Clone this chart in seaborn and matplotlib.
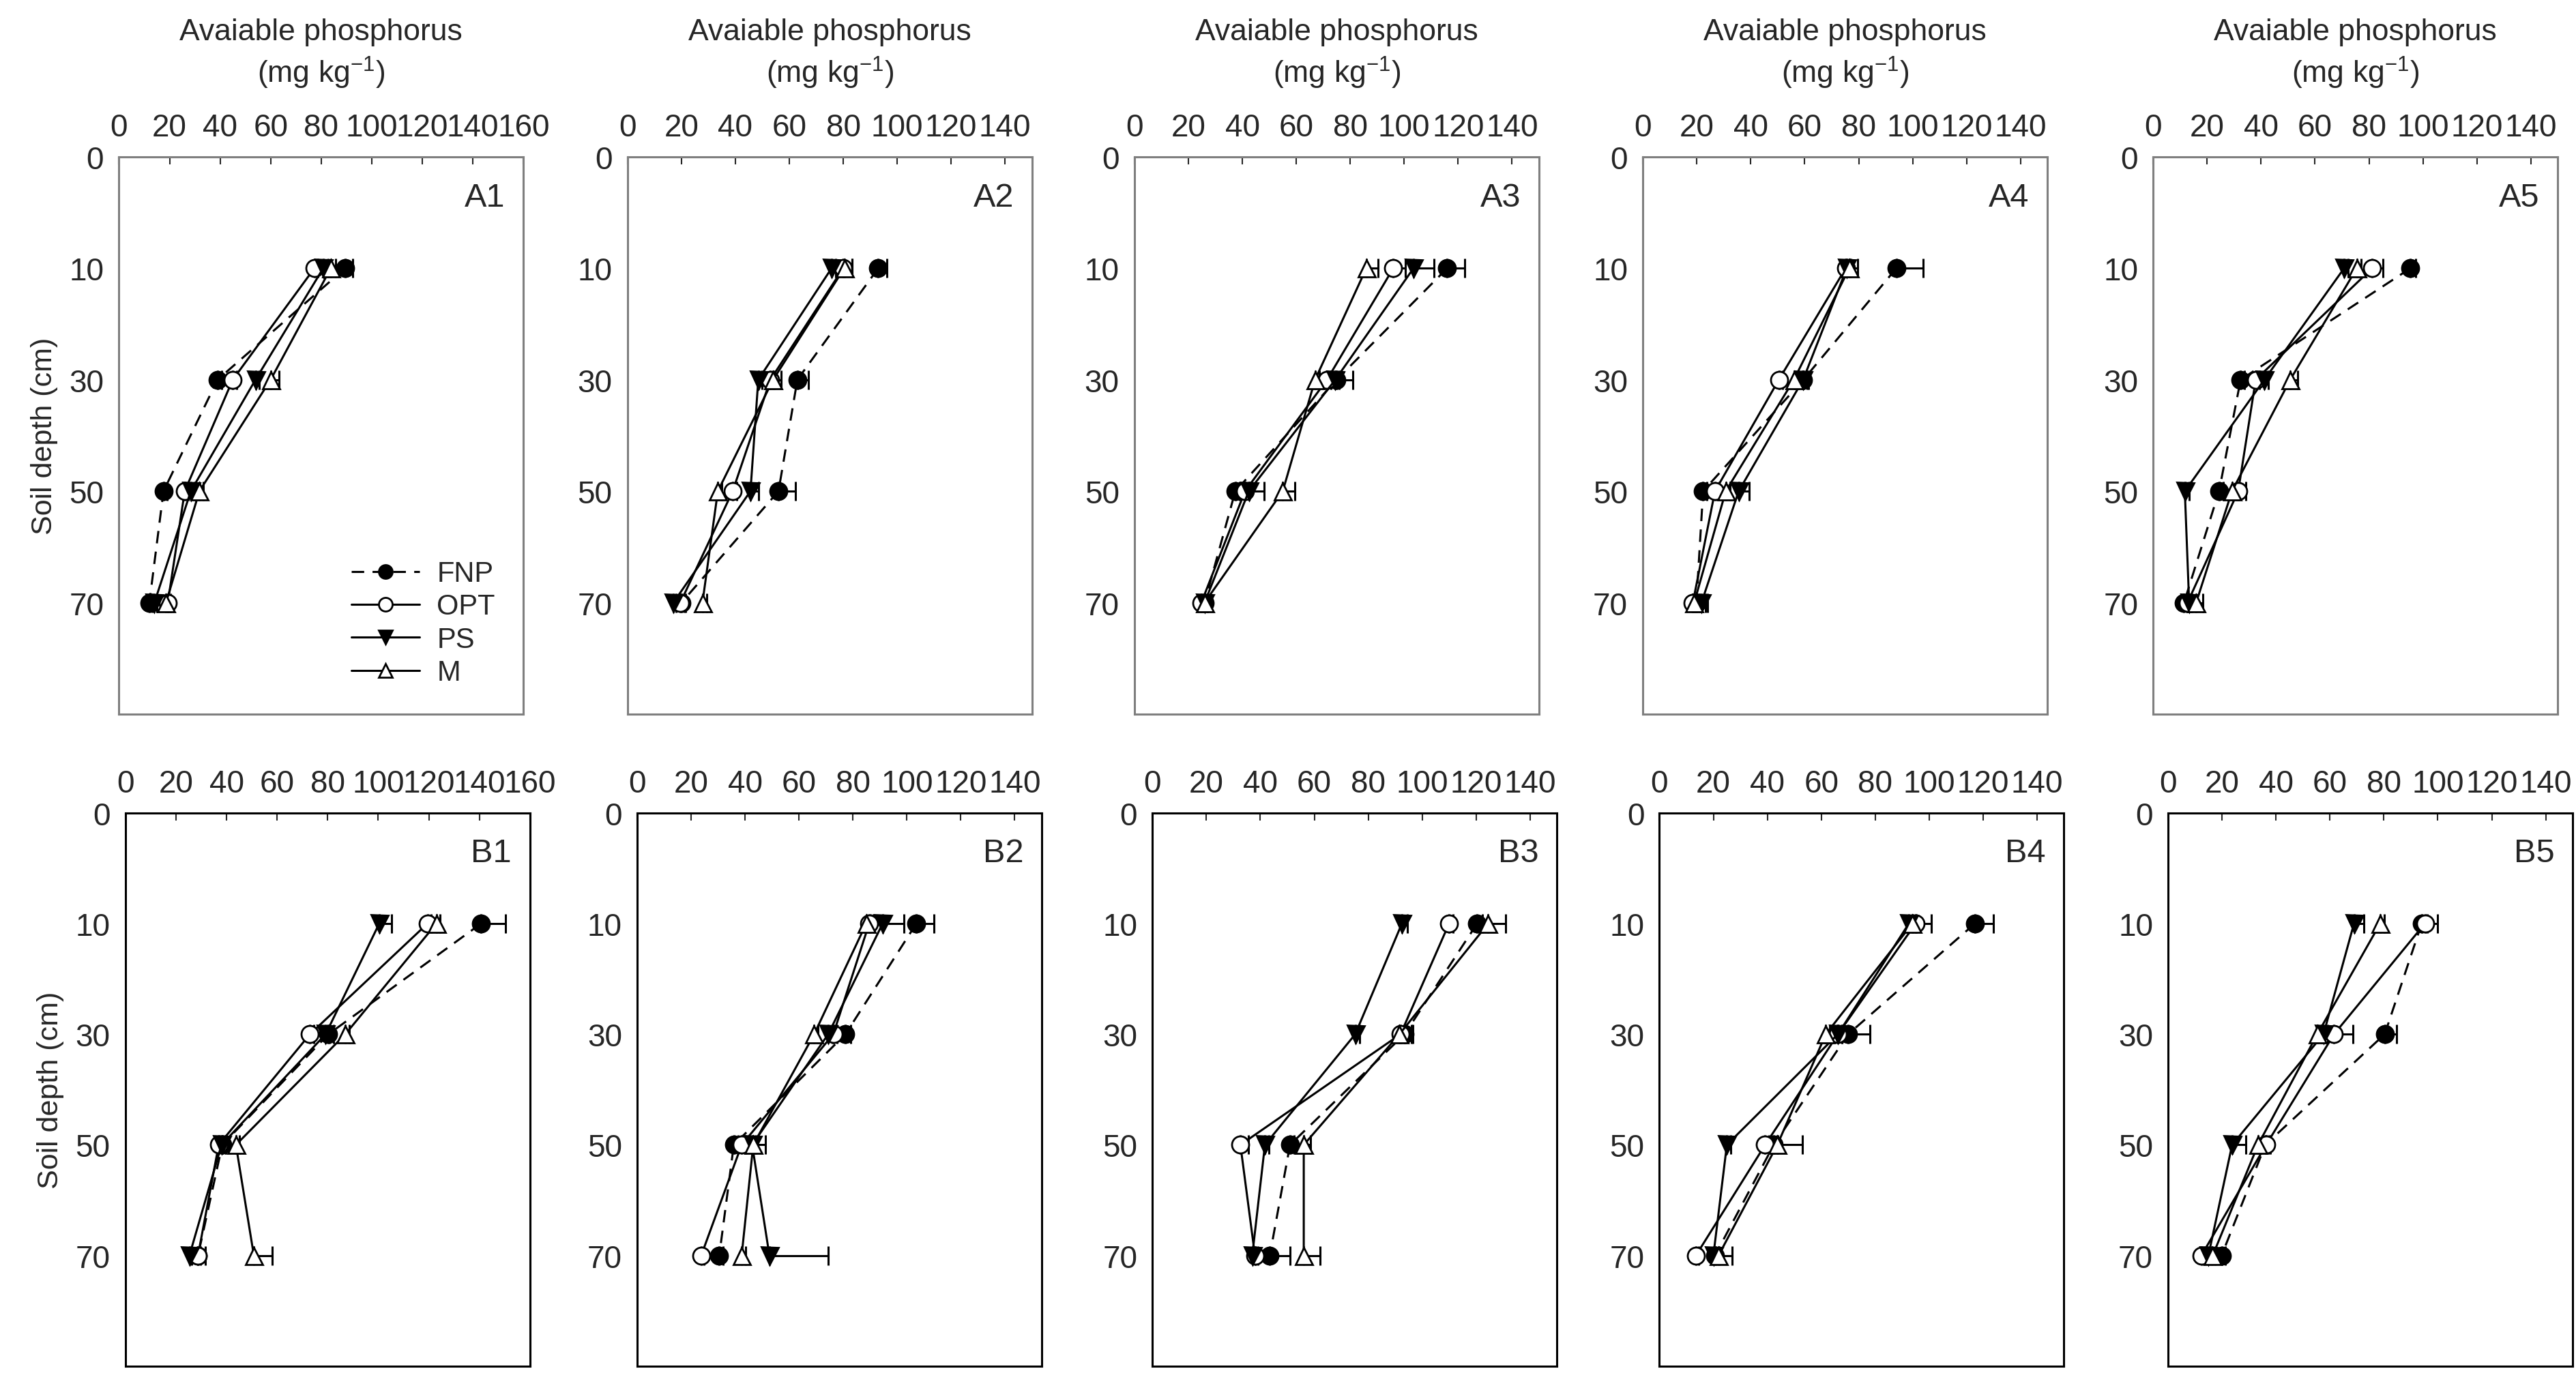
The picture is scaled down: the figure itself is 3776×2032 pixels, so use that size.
import numpy as np
import pandas as pd
import matplotlib
matplotlib.use("Agg")
import matplotlib.pyplot as plt
import seaborn as sns

# soil depths (cm) shown on the y axis, equally spaced
depth_ticks = [0, 10, 30, 50, 70]
depths = [10, 30, 50, 70]
treatments = ["FNP", "OPT", "PS", "M"]
panels = ["A1", "A2", "A3", "A4", "A5", "B1", "B2", "B3", "B4", "B5"]

# mean available P (mg/kg) per treatment, at depths 10, 30, 50, 70
fnp = {
    "A1": [89.5, 39, 17.6, 12], "A2": [93, 63, 56, 20], "A3": [116, 75, 37.4, 26],
    "A4": [94, 59.5, 22.3, 19.8], "A5": [95.4, 32.4, 24.4, 11.4],
    "B1": [140.7, 80.3, 38.3, 28.7], "B2": [103.5, 77.2, 35.8, 30.4], "B3": [120.4, 93.5, 51, 43.5],
    "B4": [117, 70, 42.4, 20.6], "B5": [94, 80.3, 36, 19.8],
}
opt = {
    "A1": [77.3, 45, 26, 19.3], "A2": [80, 53, 39, 19.6], "A3": [96, 71.4, 41, 24.8],
    "A4": [75.2, 50.4, 26.7, 18.5], "A5": [81.2, 38, 31.5, 12.7],
    "B1": [119.5, 73, 36.9, 28.7], "B2": [86, 72.7, 38.7, 23.7], "B3": [110, 92, 32.6, 38],
    "B4": [95, 66.2, 39.2, 13.5], "B5": [95.2, 61.5, 36.3, 12.3],
}
ps = {
    "A1": [80.8, 54, 28.4, 14], "A2": [75.7, 48.5, 45.6, 17], "A3": [103.5, 74.5, 42.4, 26],
    "A4": [75.6, 59.4, 35.5, 21.7], "A5": [70.8, 41.2, 11.7, 13.3],
    "B1": [100.4, 79.2, 38, 25.3], "B2": [91, 70.8, 42.6, 49], "B3": [92.5, 75.2, 41.7, 37],
    "B4": [92.5, 66.2, 25, 20], "B5": [68.9, 57.6, 23.7, 14.9],
}
m = {
    "A1": [83.8, 60, 31.8, 18.6], "A2": [80.4, 54, 33.5, 27.8], "A3": [86, 67, 55, 26],
    "A4": [76.5, 56, 30.7, 19], "A5": [75.5, 50.8, 29.2, 15.9],
    "B1": [123, 87, 43.7, 50.8], "B2": [84.9, 65.6, 43, 38.7], "B3": [124.5, 91.6, 56.1, 56.1],
    "B4": [93.8, 61.7, 43.7, 21.9], "B5": [78.6, 55.3, 33.3, 16.5],
}
# standard errors (one-sided bars)
fnp_err = {
    "A1": [3, 1.5, 1.5, 1], "A2": [3.2, 4, 6.3, 1.5], "A3": [6.5, 6, 1.5, 1],
    "A4": [10, 2, 1.5, 1], "A5": [2, 1.5, 1.5, 1],
    "B1": [9.6, 2, 1.5, 1], "B2": [6.4, 2, 1.5, 1.5], "B3": [2, 3, 1.5, 7.5],
    "B4": [6.8, 8, 1.5, 1.5], "B5": [2, 4.5, 1.5, 1.5],
}
opt_err = {
    "A1": [1.5, 1.5, 1.5, 1], "A2": [3.4, 1.5, 1.5, 1.5], "A3": [4.4, 1.5, 1.5, 1],
    "A4": [1.5, 1.5, 1.5, 1], "A5": [4, 1.5, 2.8, 1],
    "B1": [1.5, 1.5, 1.5, 3], "B2": [1.5, 1.5, 1.5, 1], "B3": [1.5, 1.5, 3, 1],
    "B4": [5.8, 1.5, 1.5, 1], "B5": [4.8, 7, 1.5, 1],
}
ps_err = {
    "A1": [2, 1.5, 1.5, 1], "A2": [1.5, 1.5, 3, 1], "A3": [7.5, 1.5, 5.7, 1],
    "A4": [1.5, 1.5, 3.8, 1.5], "A5": [1.5, 1.5, 1.5, 1],
    "B1": [4.8, 1.5, 1.5, 1], "B2": [8, 1.5, 1.5, 21.8], "B3": [2, 1.5, 1.5, 1],
    "B4": [1.5, 1.5, 1.5, 1], "B5": [3.6, 1.5, 5, 1],
}
m_err = {
    "A1": [2, 3.4, 1.5, 1], "A2": [3, 3, 1.5, 1.5], "A3": [4.4, 1.5, 4.4, 1],
    "A4": [3, 1.5, 1.5, 5], "A5": [1.5, 2.8, 1.5, 2.5],
    "B1": [1.5, 1.5, 1.5, 7.2], "B2": [1.5, 1.5, 4.4, 1.5], "B3": [6.5, 4.5, 2.5, 6],
    "B4": [1.5, 1.5, 9.4, 5], "B5": [1.5, 1.5, 1.5, 1],
}
x_max = {"A1": 160, "B1": 160}

sns.set_theme(style="white")
plt.rcParams["font.family"] = ["Liberation Sans", "DejaVu Sans"]
plt.rcParams["mathtext.fontset"] = "custom"
plt.rcParams["mathtext.rm"] = "Liberation Sans"
plt.rcParams["mathtext.it"] = "Liberation Sans"

styles = {
    "FNP": dict(marker="o", mfc="black", ls=(0, (6, 4))),
    "OPT": dict(marker="o", mfc="white", ls="-"),
    "PS": dict(marker="v", mfc="black", ls="-"),
    "M": dict(marker="^", mfc="white", ls="-"),
}
series = {"FNP": (fnp, fnp_err), "OPT": (opt, opt_err), "PS": (ps, ps_err), "M": (m, m_err)}
pos_of = {d: i for i, d in enumerate(depth_ticks)}

fig = plt.figure(figsize=(37.76, 20.33), dpi=100)
lefts_top = [0.0462, 0.2436, 0.4404, 0.6378, 0.8359]
lefts_bot = [0.0487, 0.2474, 0.4474, 0.6442, 0.8417]
w = 0.157
fs = 33

for k, name in enumerate(panels):
    row = 0 if name.startswith("A") else 1
    col = k % 5
    if row == 0:
        ax = fig.add_axes([lefts_top[col], 0.4845, w, 0.402])
    else:
        ax = fig.add_axes([lefts_bot[col], 0.0143, w, 0.399])
    ypos = [pos_of[d] for d in depths]
    for t in treatments:
        vals, errs = series[t]
        df = pd.DataFrame({"P": vals[name], "pos": ypos})
        st = styles[t]
        sns.lineplot(data=df, x="P", y="pos", orient="y", sort=False, ax=ax,
                     color="black", lw=2.2, linestyle=st["ls"], marker=st["marker"],
                     markersize=18, markerfacecolor=st["mfc"], markeredgecolor="black",
                     markeredgewidth=2, label=t)
        ax.errorbar(vals[name], ypos, xerr=[np.zeros(4), errs[name]], fmt="none",
                    ecolor="black", elinewidth=2.2, capsize=10, capthick=2.2, zorder=1)
    xm = x_max.get(name, 150)
    ax.set_xlim(0, xm)
    ax.set_xticks(np.arange(0, 161 if xm == 160 else 141, 20))
    ax.set_ylim(5, 0)
    ax.set_yticks(range(len(depth_ticks)))
    ax.set_yticklabels([str(d) for d in depth_ticks])
    ax.xaxis.tick_top()
    ax.tick_params(axis="x", direction="in", length=8, width=1.5, labelsize=fs, pad=15, top=True, bottom=False)
    ax.tick_params(axis="y", length=0, labelsize=fs, pad=16)
    ax.set_xlabel("")
    ax.set_ylabel("")
    spine_col = "#7f7f7f" if row == 0 else "black"
    for s in ax.spines.values():
        s.set_color(spine_col)
        s.set_linewidth(2.2)
    ax.text(0.955, 0.955, name, transform=ax.transAxes, ha="right", va="top", fontsize=35)
    if row == 0:
        ax.text(0.5, 1.224, "Avaiable phosphorus", transform=ax.transAxes, ha="center", va="center", fontsize=32)
        ax.text(0.5, 1.152, "(mg kg$^{-1}$)", transform=ax.transAxes, ha="center", va="center", fontsize=32)
    if col == 0:
        ax.set_ylabel("Soil depth (cm)", fontsize=31, labelpad=12)
    if name == "A1":
        ax.legend(loc="lower right", bbox_to_anchor=(0.93, 0.05), borderpad=0, borderaxespad=0,
                  frameon=False, fontsize=30, handlelength=2.4, handletextpad=0.6,
                  labelspacing=0.2, markerscale=0.8)
    else:
        leg = ax.get_legend()
        if leg is not None:
            leg.remove()

fig.savefig("out.png", dpi=100, facecolor="white")
